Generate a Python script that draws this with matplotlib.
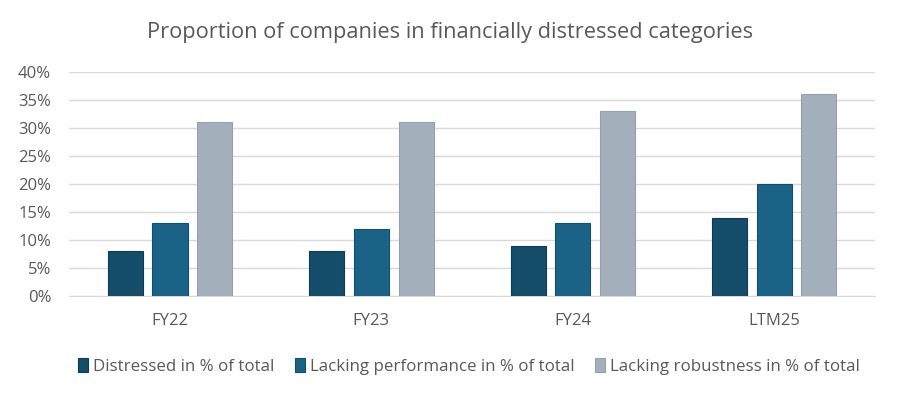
import matplotlib.pyplot as plt
import numpy as np

# Chart data
categories = ['FY22', 'FY23', 'FY24', 'LTM25']
distressed = [0.08, 0.08, 0.09, 0.14]
lacking_performance = [0.13, 0.12, 0.13, 0.20]
lacking_robustness = [0.31, 0.31, 0.33, 0.36]
series_names = ['Distressed in % of total',
                'Lacking performance in % of total',
                'Lacking robustness in % of total']
y_ticks = [0, 0.05, 0.10, 0.15, 0.20, 0.25, 0.30, 0.35, 0.40]

plt.rcParams['font.family'] = ['Open Sans', 'DejaVu Sans']
text_color = '#595959'

fig = plt.figure(figsize=(9, 3.98), dpi=100)
ax = fig.add_axes([0.077, 0.256, 0.895, 0.563])

x = np.arange(len(categories))
width = 0.174
step = 0.222
colors = ['#154e6a', '#1b6386', '#a3afbb']
edges = ['#0f3b52', '#124f6d', '#93a0ad']
series = [distressed, lacking_performance, lacking_robustness]

for i, (vals, name) in enumerate(zip(series, series_names)):
    ax.bar(x + (i - 1) * step, vals, width, color=colors[i],
           edgecolor=edges[i], linewidth=0.8, label=name, zorder=3)

ax.set_xlim(-0.5, len(categories) - 0.5)
ax.set_ylim(0, 0.40)
ax.set_yticks(y_ticks)
ax.set_yticklabels([f'{int(round(t * 100))}%' for t in y_ticks])
ax.set_xticks(x)
ax.set_xticklabels(categories)

ax.grid(axis='y', color='#d9d9d9', linewidth=1, zorder=0)
for side in ['top', 'right', 'left']:
    ax.spines[side].set_visible(False)
ax.spines['bottom'].set_color('#d9d9d9')
ax.tick_params(axis='both', length=0, colors=text_color, labelsize=12)
ax.tick_params(axis='y', pad=13)
ax.tick_params(axis='x', pad=12)

fig.suptitle('Proportion of companies in financially distressed categories',
             fontsize=15.7, color=text_color, y=0.945)

leg = fig.legend(loc='center', bbox_to_anchor=(0.521, 0.08), ncol=3,
                 frameon=False, fontsize=12.2, handlelength=0.6,
                 handleheight=0.9, handletextpad=0.3, columnspacing=1.2)
for t in leg.get_texts():
    t.set_color(text_color)

plt.savefig('out.png', dpi=100)
